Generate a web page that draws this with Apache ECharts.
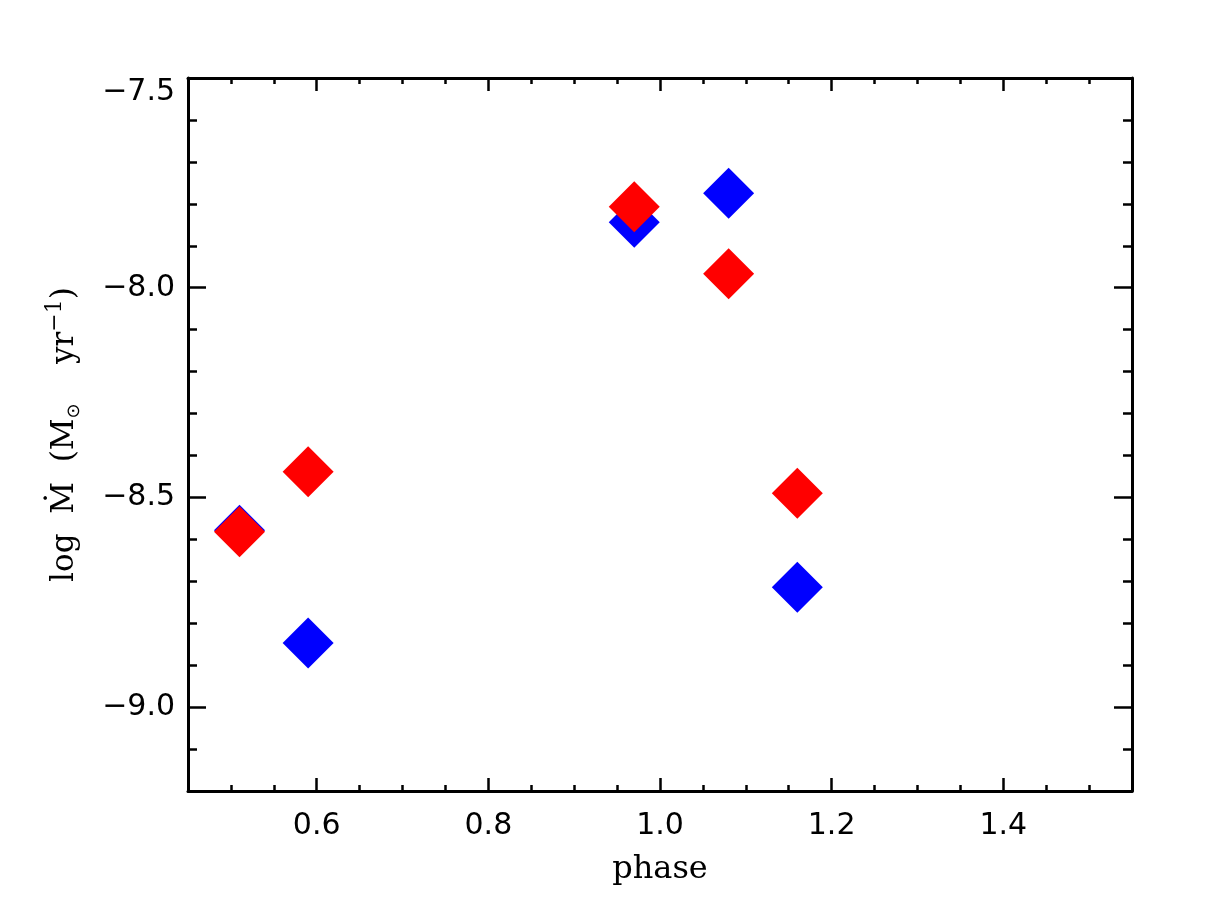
<!DOCTYPE html>
<html>
<head>
<meta charset="utf-8">
<title>log Mdot vs phase</title>
<script src="https://cdn.jsdelivr.net/npm/echarts@6.0.0/dist/echarts.min.js"></script>
<style>
  html, body { margin: 0; padding: 0; background: #fff; }
  #chart { width: 1225px; height: 922px; }
</style>
</head>
<body>
<div id="chart"></div>
<script>
// values
const phase = [0.51, 0.59, 0.97, 1.08, 1.16]
const blueMdot = [-8.578, -8.847, -7.844, -7.775, -8.714]
const redMdot = [-8.582, -8.439, -7.807, -7.967, -8.490]

const xMajorTicks = [0.6, 0.8, 1.0, 1.2, 1.4]
const yMajorTicks = [-9.0, -8.5, -8.0, -7.5]

const xRange = [0.45, 1.55]
const yRange = [-9.2, -7.5]

const chart = echarts.init(document.getElementById('chart'))

const gridBox = { left: 188, right: 93, top: 78, bottom: 131 }
const tickFont = { fontFamily: 'DejaVu Sans', fontSize: 30, color: '#000' }
const lineStyle = { color: '#000', width: 3 }

const fmtY = v => {
    const s = (v < 0 ? '\u2212' : '') + Math.abs(v).toFixed(1)
    // the top label sits a bit below the corner in the original
    return v === -7.5 ? '{t|' + s + '}' : s
}

function majorX(position, labels) {
    return {
        type: 'value', gridIndex: 0, position,
        min: xRange[0], max: xRange[1],
        axisLine: { show: true, onZero: false, lineStyle },
        axisTick: { show: true, inside: true, length: 13, customValues: xMajorTicks, lineStyle: { width: 2.5, color: '#000' } },
        axisLabel: labels ? { show: true, margin: 20, customValues: xMajorTicks, formatter: v => v.toFixed(1), ...tickFont } : { show: false },
        splitLine: { show: false },
        name: labels ? 'phase' : '',
        nameLocation: 'middle',
        nameGap: 63,
        nameTextStyle: { fontFamily: 'DejaVu Serif', fontSize: 32, color: '#000' }
    }
}

function minorX(position) {
    return {
        type: 'value', gridIndex: 1, position,
        min: xRange[0], max: xRange[1], interval: 0.05,
        axisLine: { show: false },
        axisTick: { show: true, inside: true, length: 6, lineStyle: { width: 2.5, color: '#000' } },
        axisLabel: { show: false },
        splitLine: { show: false }
    }
}

function majorY(position, labels) {
    return {
        type: 'value', gridIndex: 0, position,
        min: yRange[0], max: yRange[1],
        axisLine: { show: true, onZero: false, lineStyle },
        axisTick: { show: true, inside: true, length: 18, customValues: yMajorTicks, lineStyle: { width: 2.5, color: '#000' } },
        axisLabel: labels ? {
            show: true, margin: 13, customValues: yMajorTicks, formatter: fmtY, ...tickFont,
            rich: { t: { ...tickFont, padding: [28, 0, 0, 0] } }
        } : { show: false },
        splitLine: { show: false },
        name: labels ? '{n|log  \u1E40  (M}{sub|\u2299}{n|    yr}{sup|\u22121}{n|)}' : '',
        nameLocation: 'middle',
        nameRotate: 90,
        nameGap: 102,
        nameTextStyle: {
            rich: {
                n: { fontFamily: 'DejaVu Serif', fontSize: 31, color: '#000' },
                sub: { fontFamily: 'DejaVu Sans', fontSize: 18, color: '#000', padding: [18, 0, 0, 0] },
                sup: { fontFamily: 'DejaVu Serif', fontSize: 22, color: '#000', padding: [0, 0, 20, 0] }
            }
        }
    }
}

function minorY(position) {
    return {
        type: 'value', gridIndex: 1, position,
        min: yRange[0], max: yRange[1], interval: 0.1,
        axisLine: { show: false },
        axisTick: { show: true, inside: true, length: 9, lineStyle: { width: 2.5, color: '#000' } },
        axisLabel: { show: false },
        splitLine: { show: false }
    }
}

const option = {
    backgroundColor: '#fff',
    animation: false,
    grid: [gridBox, gridBox],
    xAxis: [majorX('bottom', true), majorX('top', false), minorX('bottom'), minorX('top')],
    yAxis: [majorY('left', true), majorY('right', false), minorY('left'), minorY('right')],
    series: [
        {
            type: 'scatter', xAxisIndex: 0, yAxisIndex: 0,
            symbol: 'diamond', symbolSize: [51, 51],
            itemStyle: { color: '#0000ff', opacity: 1 },
            data: phase.map((p, i) => [p, blueMdot[i]])
        },
        {
            type: 'scatter', xAxisIndex: 0, yAxisIndex: 0,
            symbol: 'diamond', symbolSize: [51, 51],
            itemStyle: { color: '#ff0000', opacity: 1 },
            data: phase.map((p, i) => [p, redMdot[i]])
        }
    ]
}

chart.setOption(option)
</script>
</body>
</html>
